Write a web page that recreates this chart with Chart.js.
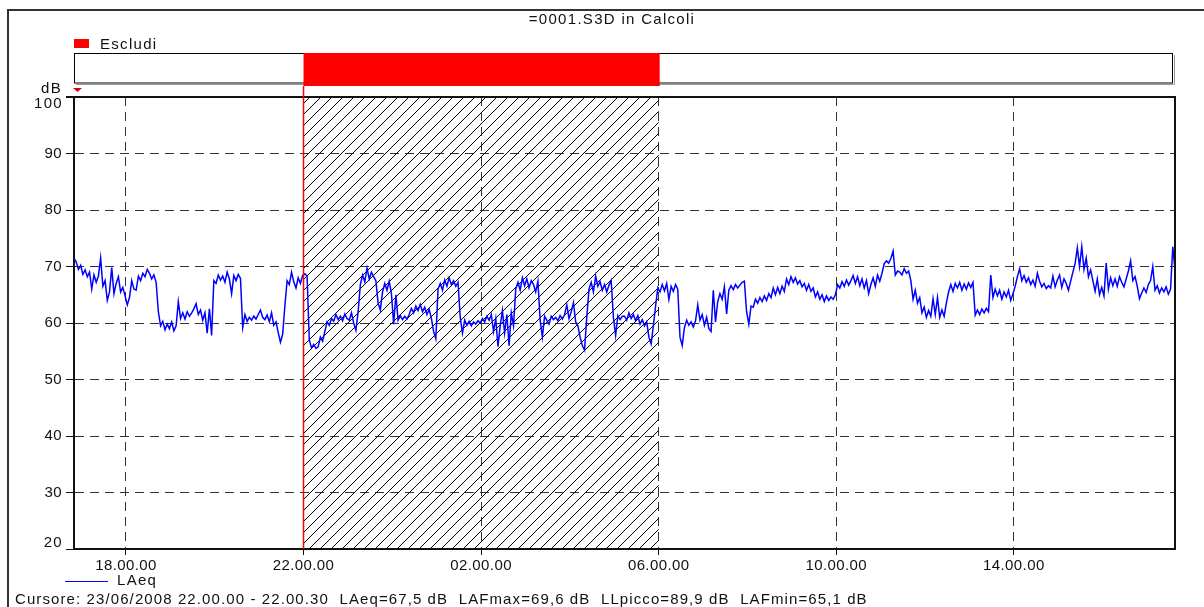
<!DOCTYPE html>
<html lang="it">
<head>
  <meta charset="UTF-8">
  <title>=0001.S3D in Calcoli</title>
  <script src="https://cdn.jsdelivr.net/npm/chart.js"></script>
  <style>
    html, body {
      margin: 0;
      padding: 0;
      background-color: #fff;
    }
    #wrap {
      width: 1204px;
      height: 607px;
      position: relative;
    }
  </style>
</head>
<body>

  <div id="wrap"><canvas id="laeqChart"></canvas></div>

  <script>
    // time axis: hours from midnight of 23/06 (values > 24 are the next day)
    const startHour = 16.83;
    const endHour = 41.63;

    // LAeq, dB, one value every ~3 minutes
    const laeq = [
      71.5, 70.8, 69.5, 70.2, 68.6, 69.4, 68.2, 69, 66, 68.5, 67.2, 68.3, 71.5, 66.5, 67.5, 64, 65.5, 69.8, 65.2, 67,
      68.2, 65.5, 66.3, 64.8, 63.2, 64.5, 67.5, 66, 65.8, 68.3, 67.5, 68.8, 68.2, 69.5, 68.8, 67.8, 68.5, 67.2, 62, 59.5,
      60.3, 58.8, 59.8, 59, 60.2, 58.6, 59.5, 63.8, 60.8, 61.8, 60.7, 62, 61.2, 61.8, 62.5, 63.4, 61.5, 62.3, 60.5, 61.8,
      58.2, 62.5, 57.8, 67.5, 67, 68.5, 67.6, 68.3, 67.2, 69, 67.8, 65.2, 68.4, 67.5, 68.6, 67.9, 59.2, 61.5, 60.3, 61,
      60.5, 61.2, 60.7, 61.5, 62.3, 61, 60.6, 61.4, 60.2, 61.8, 59.6, 60.2, 58.3, 56.6, 58, 63, 67.5, 66.8, 69, 67.3,
      66.2, 68, 67, 68.4, 68.7, 68.3, 57, 55.6, 56.2, 55.5, 55.8, 57.5, 56.8, 58.5, 60.2, 59.6, 60.8, 60.3, 61.5, 60.6,
      61.2, 60.4, 61.6, 60.8, 60.5, 61.8, 60, 58.7, 62, 66.8, 68.5, 67.3, 69.7, 67.8, 69, 68.2, 67.5, 63.5, 62.3, 65.5,
      67, 65.8, 67.4, 65.2, 59.8, 65, 60.5, 61.3, 60.6, 61.2, 60.7, 61.5, 62.6, 61.8, 63, 62.2, 63.3, 62, 62.8, 61.5,
      62.4, 60.8, 58.5, 57.2, 66, 67, 65.8, 67.6, 66.5, 68, 66.8, 67.5, 66.5, 67.2, 61, 58.2, 60.5, 59.6, 60.3, 59.5,
      60.2, 59.8, 60.4, 60, 60.8, 60.2, 61.2, 60.5, 61.5, 58.5, 60.8, 55.8, 59.5, 62.2, 58.2, 61.5, 56, 61.8, 59.5, 66,
      67.2, 65.8, 68, 66.6, 67.8, 66.2, 67.5, 66.8, 65.5, 67.4, 60.5, 57.5, 61.2, 60.5, 59.8, 61.2, 60.6, 61, 60.4, 61.3,
      60.7, 61.5, 63.2, 60.8, 62, 63.6, 60.2, 59.5, 57.5, 56, 55.2, 61, 66, 67.2, 65.5, 68.3, 66.5, 67.3, 65.8, 66.8,
      65.5, 66.7, 67.5, 61, 57.8, 61.3, 60.6, 61.2, 61.2, 60.5, 61.8, 60.8, 61.5, 60.4, 61.3, 59.8, 60.6, 59.5, 60.2, 57.5,
      56.3, 59.5, 63, 66.2, 65.5, 66.8, 65.7, 67, 64.2, 66.5, 65.6, 66.8, 66, 57.5, 56, 59.2, 60.5, 59.6, 60.2, 59.3,
      60.4, 63.2, 60.5, 61.5, 59.6, 61, 59, 58.5, 65.8, 60.2, 63.8, 65.2, 64.2, 66.4, 61.6, 65.8, 66.6, 65.9, 66.8, 66.2,
      66.7, 67.2, 67.4, 62, 59.8, 63, 62.8, 64.2, 63.5, 64.5, 63.8, 64.8, 64, 65.2, 64.5, 66.2, 65, 66.3, 65.2, 66.5,
      65.6, 67.8, 66.8, 68.2, 67.2, 68, 66.9, 67.5, 66.4, 67, 65.8, 66.8, 65.6, 66.2, 64.6, 65.5, 64.2, 65, 63.8, 64.8,
      64, 64.6, 64.2, 65, 66.8, 66.2, 67.3, 66.5, 67.6, 66.7, 67.5, 68.4, 67, 68.2, 66.6, 67.8, 66.2, 67.5, 65.2, 66.8,
      68, 66.5, 68.5, 67.4, 68.8, 70.5, 71, 70.6, 71.4, 72.7, 68.5, 69.2, 69, 68.5, 69.6, 68.8, 69.2, 67.5, 64.2, 65.8,
      63.5, 64.5, 61.8, 62.8, 61, 62.2, 61.2, 64.3, 61.5, 64.5, 61, 62.3, 61.2, 63.5, 65.5, 66.8, 65.6, 67, 66.2, 67.2,
      65.8, 66.9, 66, 67.1, 66.3, 67.2, 61.4, 62.3, 61.5, 62.5, 61.8, 62.6, 62, 68.5, 64.5, 66, 64.8, 65.8, 64.2, 65.5,
      64.6, 65.8, 64, 65.2, 66.5, 68.2, 69.6, 67.5, 68.4, 67.2, 68, 66.8, 67.6, 66.5, 68.8, 67.4, 66.4, 67, 66.1, 66.6,
      66.2, 68.3, 66.4, 67.6, 68.5, 66.3, 67.8, 67, 65.8, 67.4, 69, 70.5, 73.3, 70, 73.5, 69.5, 71.5, 68.2, 69.4, 67.5,
      65.6, 67.8, 65, 66.3, 64.8, 70.6, 66, 68, 66.6, 67.8, 66.5, 68.2, 67.2, 66.4, 67.8, 69.2, 71, 67.5, 68.2, 66.5,
      64.3, 65.3, 66.2, 65.4, 66.8, 67.5, 70, 65.8, 66.6, 65.3, 66.2, 65.5, 66.4, 65.1, 66, 73.5, 69.4
    ];

    const tickHours = [18, 22, 26, 30, 34, 38];
    const tickLabels = ['18.00.00', '22.00.00', '02.00.00', '06.00.00', '10.00.00', '14.00.00'];
    const yMin = 20;
    const yMax = 100;

    // "Escludi" period and cursor
    const excludeFrom = [22];
    const excludeTo = [30];
    const cursorHour = 22;

    const FONT = '"Liberation Sans", Arial, sans-serif';
    const stepHour = (endHour - startHour) / (laeq.length - 1);
    const points = laeq.map((v, i) => ({ x: startHour + i * stepHour, y: v }));

    // diagonal hatch pattern for the excluded period
    function makeHatch() {
      const s = 11;
      const c = document.createElement('canvas');
      c.width = s; c.height = s;
      const g = c.getContext('2d');
      g.strokeStyle = '#000';
      g.lineWidth = 1;
      g.beginPath();
      g.moveTo(0, s); g.lineTo(s, 0);
      g.moveTo(-2, 2); g.lineTo(2, -2);
      g.moveTo(s - 2, s + 2); g.lineTo(s + 2, s - 2);
      g.stroke();
      return g.createPattern(c, 'repeat');
    }
    let hatch;

    const decor = {
      id: 'decor',
      beforeDraw(chart) {
        chart.ctx.letterSpacing = '0.4px';
      },
      beforeDatasetsDraw(chart) {
        const { ctx, chartArea: a, scales: { x } } = chart;
        if (!hatch) hatch = makeHatch();
        ctx.save();
        excludeFrom.forEach((f, k) => {
          const x0 = x.getPixelForValue(f);
          const x1 = x.getPixelForValue(excludeTo[k]);
          ctx.fillStyle = hatch;
          ctx.fillRect(x0, a.top, x1 - x0, a.bottom - a.top);
        });
        ctx.restore();
      },
      afterDraw(chart) {
        const { ctx, chartArea: a, scales: { x, y } } = chart;
        ctx.save();
        ctx.letterSpacing = '1.3px';

        // outer frame
        ctx.strokeStyle = '#333';
        ctx.lineWidth = 2;
        ctx.beginPath();
        ctx.moveTo(8, 607); ctx.lineTo(8, 10); ctx.lineTo(1204, 10);
        ctx.stroke();

        // title
        ctx.fillStyle = '#111';
        ctx.font = '15px ' + FONT;
        ctx.textAlign = 'center';
        ctx.textBaseline = 'middle';
        ctx.fillText('=0001.S3D in Calcoli', 612, 20);

        // "Escludi" legend + strip
        ctx.fillStyle = '#ff0000';
        ctx.fillRect(74, 39, 15, 9);
        ctx.fillStyle = '#111';
        ctx.textAlign = 'left';
        ctx.fillText('Escludi', 100, 45);

        ctx.strokeStyle = '#999';
        ctx.lineWidth = 1;
        ctx.beginPath();
        ctx.moveTo(1174.5, 55); ctx.lineTo(1174.5, 84.5); ctx.lineTo(76, 84.5);
        ctx.stroke();
        ctx.strokeStyle = '#000';
        ctx.strokeRect(74.5, 53.5, 1098, 29.5);
        ctx.fillStyle = '#ff0000';
        excludeFrom.forEach((f, k) => {
          const x0 = x.getPixelForValue(f);
          const x1 = x.getPixelForValue(excludeTo[k]);
          ctx.fillRect(x0, 53, x1 - x0 + 1, 33);
        });

        // plot frame top/right
        ctx.strokeStyle = '#111';
        ctx.lineWidth = 2;
        ctx.beginPath();
        ctx.moveTo(66, a.top); ctx.lineTo(a.right, a.top); ctx.lineTo(a.right, a.bottom);
        ctx.stroke();

        // cursor
        const cx = x.getPixelForValue(cursorHour);
        ctx.strokeStyle = '#ff0000';
        ctx.lineWidth = 1.5;
        ctx.beginPath();
        ctx.moveTo(cx, 86); ctx.lineTo(cx, a.bottom);
        ctx.stroke();
        ctx.fillStyle = '#e00000';
        ctx.beginPath();
        ctx.moveTo(73, 88); ctx.lineTo(82, 88); ctx.lineTo(77.5, 92); ctx.closePath();
        ctx.fill();

        // unit label and the end labels of the y axis (kept inside the frame)
        ctx.fillStyle = '#111';
        ctx.textAlign = 'right';
        ctx.fillText('dB', 62, 89);
        ctx.fillText(String(yMax), 63, y.getPixelForValue(yMax) + 7);
        ctx.fillText(String(yMin), 63, y.getPixelForValue(yMin) - 6);

        // series legend
        ctx.strokeStyle = '#0000ff';
        ctx.lineWidth = 1.2;
        ctx.beginPath();
        ctx.moveTo(65, 581.5); ctx.lineTo(108, 581.5);
        ctx.stroke();
        ctx.textAlign = 'left';
        ctx.fillText('LAeq', 117, 581);

        // cursor readout
        ctx.letterSpacing = '1.1px';
        ctx.fillText('Cursore: 23/06/2008 22.00.00 - 22.00.30  LAeq=67,5 dB  LAFmax=69,6 dB  LLpicco=89,9 dB  LAFmin=65,1 dB', 15, 600);

        ctx.restore();
      }
    };

    const ctx = document.getElementById('laeqChart').getContext('2d');

    new Chart(ctx, {
      type: 'line',
      data: {
        datasets: [{
          label: 'LAeq',
          data: points,
          borderColor: '#0000ff',
          borderWidth: 1.5,
          pointRadius: 0,
          tension: 0,
          fill: false
        }]
      },
      options: {
        responsive: true,
        maintainAspectRatio: false,
        animation: false,
        events: [],
        layout: { padding: { top: 97, right: 29, bottom: 0, left: 0 } },
        plugins: {
          legend: { display: false },
          title: { display: false },
          tooltip: { enabled: false }
        },
        scales: {
          x: {
            type: 'linear',
            min: startHour,
            max: endHour,
            afterFit: (s) => { s.height = 58; },
            afterBuildTicks: (s) => { s.ticks = tickHours.map(v => ({ value: v })); },
            grid: {
              color: '#333',
              lineWidth: 1,
              drawTicks: true,
              tickLength: 6,
              tickColor: '#111'
            },
            border: { display: true, color: '#111', width: 2, dash: [9, 6] },
            ticks: {
              color: '#111',
              font: { family: FONT, size: 15 },
              padding: 2,
              maxRotation: 0,
              autoSkip: false,
              callback: (v) => tickLabels[tickHours.indexOf(v)]
            }
          },
          y: {
            min: yMin,
            max: yMax,
            afterFit: (s) => { s.width = 74; },
            grid: {
              color: '#333',
              lineWidth: 1,
              drawTicks: true,
              tickLength: 8,
              tickColor: '#111'
            },
            border: { display: true, color: '#111', width: 2, dash: [9, 6] },
            ticks: {
              stepSize: 10,
              color: '#111',
              font: { family: FONT, size: 15 },
              padding: 4,
              callback: (v) => (v === yMin || v === yMax) ? '' : v
            }
          }
        }
      },
      plugins: [decor]
    });
  </script>

</body>
</html>
